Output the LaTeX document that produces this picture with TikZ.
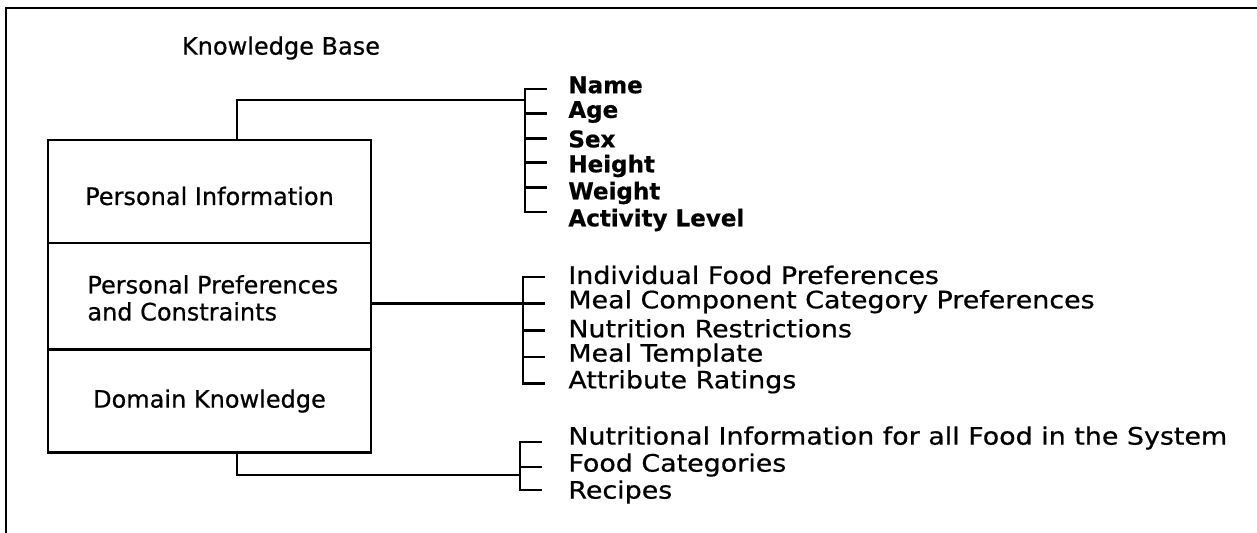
\documentclass[tikz,border=0pt]{standalone}
\usepackage{fontspec}
\setmainfont{DejaVu Sans}[FakeBold=0.6]
\newfontfamily\midfont[FakeBold=0.6]{DejaVu Sans}
\newfontfamily\widefont[FakeStretch=1.12,FakeBold=0.6]{DejaVu Sans}
\begin{document}
\begin{tikzpicture}[x=0.5pt,y=-0.5pt,line width=1.4pt,
  txt/.style={inner sep=0pt,font=\midfont\fontsize{12}{13.5}\selectfont},
  item/.style={inner sep=0pt,anchor=west,font=\widefont\fontsize{12}{13.5}\selectfont},
  bolditem/.style={inner sep=0pt,anchor=west,font=\fontsize{11.5}{13}\selectfont\bfseries},
  boxpart/.style={draw,minimum width=161.5pt,inner sep=0pt,font=\midfont\fontsize{12}{13.5}\selectfont}]
\useasboundingbox (0,0) rectangle (1257,533);
\draw (6,533) -- (6,8) -- (1257,8);
\node[txt] (kb) at (281,48) {Knowledge Base};
% boxes
\node[boxpart,minimum height=51.5pt] (pi) at (209.5,191.5) {};
\node[txt] (pit) at (209.5,196) {Personal Information};
\node[boxpart,minimum height=53pt] (pp) at (209.5,296) {};
\node[txt,align=left,anchor=west] (ppt) at (86,298) {Personal Preferences\\and Constraints};
\node[boxpart,minimum height=51.5pt] (dk) at (209.5,401) {Domain Knowledge};
% bracket 1
\foreach \t [count=\i, evaluate=\i as \y using 85+27*(\i-1), evaluate=\i as \z using 89+24.6*(\i-1)] in {Name,Age,Sex,Height,Weight,Activity Level}{
  \node[bolditem] (a\i) at (567,\y) {\t};
  \coordinate (ta\i) at (547,\z);
}
\draw (ta1) -- (ta1 -| 525,0) -- (ta6 -| 525,0) -- (ta6);
\foreach \i in {2,...,5}{\draw (ta\i -| 525,0) -- (ta\i);}
\coordinate (j1) at (237,100);
\coordinate (b1) at (525,100);
\draw (j1 |- pi.north) -- (j1) -- (b1);
% bracket 2
\foreach \t [count=\i, evaluate=\i as \y using 275+26.7*(\i-1)] in {Individual Food Preferences,Meal Component Category Preferences,Nutrition Restrictions,Meal Template,Attribute Ratings}{
  \node[item] (b\i) at (567,\y) {\t};
  \coordinate (tb\i) at (545,\y+2);
}
\draw (tb1) -- (tb1 -| 523,0) -- (tb5 -| 523,0) -- (tb5);
\foreach \i in {2,...,4}{\draw (tb\i -| 523,0) -- (tb\i);}
\draw (pp.east |- tb2) -- (tb2 -| 523,0);
% bracket 3
\foreach \t [count=\i, evaluate=\i as \y using 438+27*(\i-1)] in {Nutritional Information for all Food in the System,Food Categories,Recipes}{
  \node[item] (c\i) at (567,\y) {\t};
}
\coordinate (tc1) at (542,442);
\coordinate (tc2) at (542,467);
\coordinate (tc3) at (542,490);
\draw (tc1) -- (tc1 -| 520,0) -- (tc3 -| 520,0) -- (tc3);
\draw (tc2 -| 520,0) -- (tc2);
\coordinate (j3) at (237,475);
\draw (j3 |- dk.south) -- (j3) -- (j3 -| 520,0);
\end{tikzpicture}
\end{document}
